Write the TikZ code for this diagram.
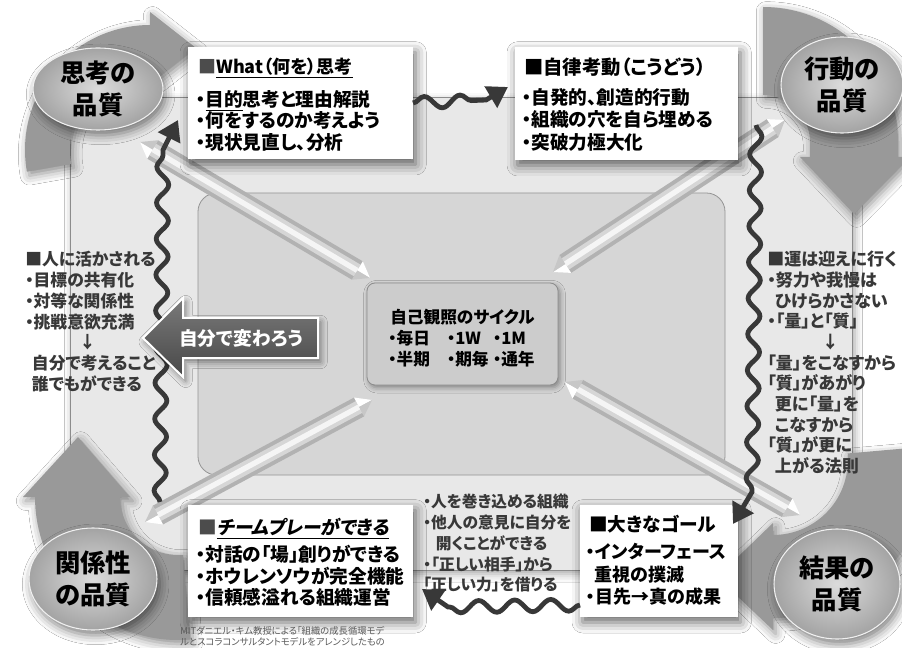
\documentclass[tikz,border=0pt]{standalone}
\usepackage{fontspec}
\setmainfont{Noto Sans CJK JP}[RawFeature=+palt]
\newfontfamily\slantjp{Noto Sans CJK JP}[FakeSlant=0.18,RawFeature=+palt]
\usetikzlibrary{calc,fit,arrows.meta,decorations.pathmorphing,shapes.geometric,shadows.blur}
\begin{document}
\begin{tikzpicture}[x=0.75pt,y=-0.75pt,
  frame/.style={draw=black!45, fill=black!9, line width=0.6pt, inner sep=0,
    blur shadow={shadow xshift=2pt, shadow yshift=-3pt, shadow blur radius=6pt, shadow opacity=35}},
  innerbox/.style={draw=black!42, fill=black!16, line width=0.6pt, rounded corners=14pt, inner sep=0},
  cband/.style={fill=black!40, blur shadow={shadow xshift=2pt, shadow yshift=-3pt, shadow blur radius=7pt, shadow opacity=45}},
  wave/.style={draw=black!78, line width=3.6pt, decoration={snake, amplitude=4.5pt, segment length=27pt}, -{Triangle[length=15pt,width=18pt]}},
  qual/.style={ellipse, inner sep=0, shade, inner color=black!14, outer color=black!36, draw=black!6, line width=0.8pt, align=center,
    font=\bfseries\fontsize{19}{24}\selectfont,
    blur shadow={shadow xshift=2pt, shadow yshift=-4pt, shadow blur radius=7pt, shadow opacity=50}},
  wbox/.style={fill=white, inner sep=0, blur shadow={shadow xshift=2pt, shadow yshift=-4pt, shadow blur radius=8pt, shadow opacity=60}},
  cbox/.style={fill=black!20, draw=black!45, line width=0.6pt, rounded corners=6pt, inner sep=0,
    blur shadow={shadow xshift=1.5pt, shadow yshift=-2pt, shadow blur radius=4pt, shadow opacity=40}},
  ttl/.style={anchor=north west, inner sep=0, font=\bfseries\fontsize{13.5}{16}\selectfont},
  body/.style={anchor=north west, inner sep=0, align=left, font=\bfseries\fontsize{14}{16.1}\selectfont},
  side/.style={anchor=north west, inner sep=0, align=left, text=black!78, font=\bfseries\fontsize{12.6}{15.6}\selectfont},
]
\useasboundingbox (0,0) rectangle (902,648);
\fill[white] (0,0) rectangle (902,648);

% frames
\node[frame, fit={(70,97) (852,570)}] (outer) {};
\node[innerbox, fit={(198,193) (725,475)}] (inner) {};

% corner cycle arrows
\fill[cband] ($(150,150)+(170:125)$) arc[start angle=170, end angle=270, radius=125]
  -- (150,12) -- (196,48) -- (150,84) -- (150,70) arc[start angle=270, end angle=170, radius=80] -- cycle;
\fill[cband] (763,7) arc[start angle=270, end angle=360, radius=135]
  -- (898,157) -- (910,157) -- (854,214) -- (800,157) -- (810,157) -- (810,142)
  arc[start angle=360, end angle=270, radius=47] -- cycle;
\fill[cband] ($(773,460)+(-5:158)$) arc[start angle=-5, end angle=90, radius=158]
  -- (773,630) -- (717,577) -- (773,523) -- (773,535) arc[start angle=90, end angle=-5, radius=75] -- cycle;
\fill[cband] ($(178,497)+(85:143)$) arc[start angle=85, end angle=180, radius=143]
  -- (23,497) -- (78,437) -- (130,497) -- (120,497) arc[start angle=180, end angle=85, radius=58] -- cycle;

% diagonal bars
\coordinate (tlA) at (140,142); \coordinate (tlB) at (370,278);
\coordinate (trA) at (785,120); \coordinate (trB) at (553,272);
\coordinate (blA) at (145,522); \coordinate (blB) at (372,400);
\coordinate (brA) at (800,515); \coordinate (brB) at (565,382);
\foreach \a/\b in {tlA/tlB, trA/trB, blA/blB, brA/brB} {
  \draw[line width=16pt, black!30] ($(\a)!11pt!(\b)$) -- ($(\b)!11pt!(\a)$);
  \draw[line width=10pt, black!16] ($(\a)!11pt!(\b)$) -- ($(\b)!11pt!(\a)$);
  \draw[line width=4pt, black!4] ($(\a)!11pt!(\b)$) -- ($(\b)!11pt!(\a)$);
  \fill[white] (\b) -- ($(\b)!11pt!(\a)!8pt!90:(\b)$) -- ($(\b)!11pt!(\a)$) -- cycle;
  \fill[black!22] (\b) -- ($(\b)!11pt!(\a)$) -- ($(\b)!11pt!(\a)!8pt!-90:(\b)$) -- cycle;
  \fill[white] (\a) -- ($(\a)!11pt!(\b)!8pt!90:(\a)$) -- ($(\a)!11pt!(\b)$) -- cycle;
  \fill[black!22] (\a) -- ($(\a)!11pt!(\b)$) -- ($(\a)!11pt!(\b)!8pt!-90:(\a)$) -- cycle;
}

% quality ellipses
\node[qual, minimum width=97.5pt, minimum height=61.5pt] (e1) at (98,89) {思考の\\品質};
\node[qual, minimum width=91.5pt, minimum height=72pt] (e2) at (842,85) {行動の\\品質};
\node[qual, minimum width=96pt, minimum height=76.5pt] (e3) at (93,579) {関係性\\の品質};
\node[qual, minimum width=94.5pt, minimum height=82.5pt] (e4) at (837,584) {結果の\\品質};

% white boxes
\node[wbox, fit={(188,47) (413,159)}] (b1) {};
\node[wbox, fit={(515,47) (738,160)}] (b2) {};
\node[wbox, fit={(188,505) (413,617)}] (b3) {};
\node[wbox, fit={(580,505) (738,617)}] (b4) {};

% wavy arrows
\coordinate (w1s) at (160,502); \coordinate (w1m) at (163,150); \coordinate (w1e) at (178,120);
\coordinate (w2s) at (413,103); \coordinate (w2m) at (486,100); \coordinate (w2e) at (508,87);
\coordinate (w3s) at (756,125); \coordinate (w3m) at (752,492); \coordinate (w3e) at (733,524);
\coordinate (w4s) at (580,605); \coordinate (w4m) at (448,607); \coordinate (w4e) at (422,589);
\draw[wave] (w1s) decorate {-- (w1m)} -- (w1e);
\draw[wave] (w2s) decorate {-- (w2m)} -- (w2e);
\draw[wave] (w3s) decorate {-- (w3m)} -- (w3e);
\draw[wave] (w4s) decorate {-- (w4m)} -- (w4e);

% center box
\node[cbox, fit={(367,283) (558,385)}] (cyc) {};
\node[side, text=black, font=\bfseries\fontsize{12.5}{15.75}\selectfont] (cyct) at (388,309)
  {\hspace*{1.5pt}自己観照のサイクル\\\makebox[44pt][l]{・毎日}\makebox[34.5pt][l]{・1W}・1M\\\makebox[44pt][l]{・半期}\makebox[34.5pt][l]{・期毎}・通年};

% big arrow
\path[top color=black!52, bottom color=black!72, draw=white, line width=1.5pt,
  blur shadow={shadow xshift=2pt, shadow yshift=-3pt, shadow blur radius=5pt, shadow opacity=50}]
  (143,338) -- (183,298) -- (183,318) -- (318,318) -- (318,358) -- (183,358) -- (183,377) -- cycle;
\node[text=white, font=\bfseries\fontsize{14}{16}\selectfont, inner sep=0] (arrtxt) at (241,338) {自分で変わろう};

% box texts
\node[ttl] (t1) at (198,58) {{\color{black!70}■}\underline{What（何を）思考}};
\node[body] (l1) at (196,90) {・\underline{目的}思考と理由解説\\・何をするのか考えよう\\・現状見直し、分析};
\node[ttl, font=\bfseries\fontsize{14.5}{16}\selectfont] (t2) at (524,58) {■自律考動（こうどう）};
\node[body, font=\bfseries\fontsize{14}{16.9}\selectfont] (l2) at (522,88) {・自発的、創造的行動\\・組織の穴を自ら埋める\\・突破力極大化};
\node[ttl, font=\bfseries\fontsize{14}{16}\selectfont] (t3) at (198,518) {{\color{black!70}■}\underline{\slantjp\bfseries チームプレーができる}};
\node[body] (l3) at (196,545) {・対話の「場」創りができる\\・ホウレンソウが完全機能\\・信頼感溢れる組織運営};
\node[ttl, font=\bfseries\fontsize{14}{16}\selectfont] (t4) at (589,515) {■大きなゴール};
\node[body, font=\bfseries\fontsize{13.5}{17}\selectfont] (l4) at (586,543) {・インターフェース\\\hspace*{0.45em}重視の撲滅\\・目先→真の成果};

% side texts
\node[side] (lt) at (25,251) {■人に活かされる\\・目標の共有化\\・対等な関係性\\・挑戦意欲充満\\\hspace*{3.2em}↓\\\hspace*{0.4em}自分で考えること\\\hspace*{0.4em}誰でもができる};
\node[side, font=\bfseries\fontsize{12.8}{15.5}\selectfont] (rt) at (767,251) {■運は迎えに行く\\・努力や我慢は\\\hspace*{0.45em}ひけらかさない\\・「量」と「質」\\\hspace*{3.2em}↓\\「量」をこなすから\\「質」があがり\\\hspace*{0.45em}更に「量」を\\\hspace*{0.45em}こなすから\\「質」が更に\\\hspace*{0.45em}上がる法則};
\node[side, font=\bfseries\fontsize{11.8}{15.6}\selectfont] (bt) at (423,494) {・人を巻き込める組織\\・他人の意見に自分を\\\hspace*{0.8em}開くことができる\\・「正しい相手」から\\「正しい力」を借りる};

% caption
\node[anchor=north west, inner sep=0, align=left, text=black!65, font=\fontsize{7}{8.5}\selectfont] (cap) at (180,626)
  {MITダニエル・キム教授による「組織の成長循環モデ\\ルとスコラコンサルタントモデルをアレンジしたもの};
\end{tikzpicture}
\end{document}
